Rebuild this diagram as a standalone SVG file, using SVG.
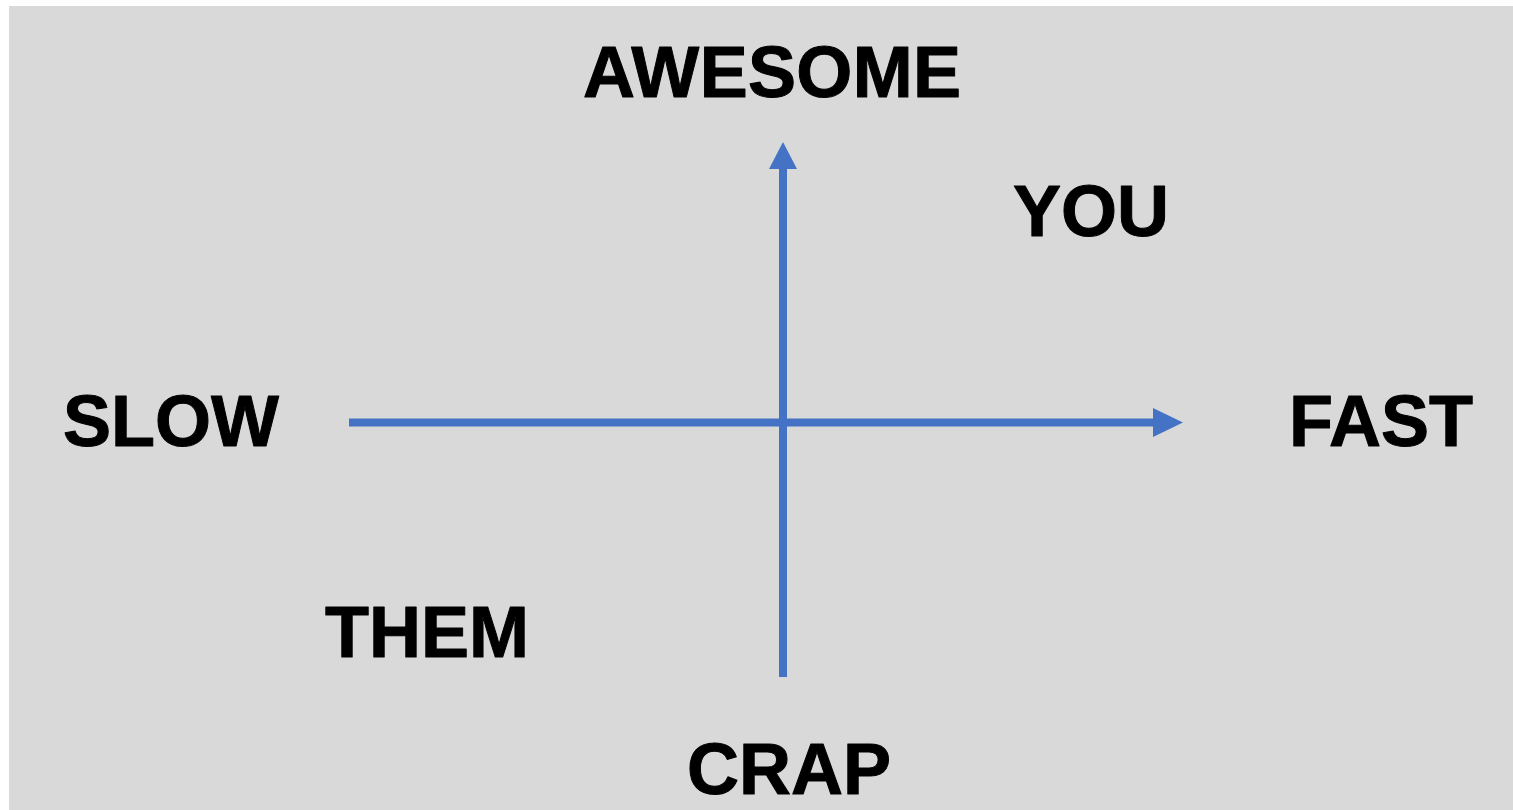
<svg xmlns="http://www.w3.org/2000/svg" width="1513" height="810" viewBox="0 0 1513 810">
  <style>
    .lbl { font-family: "Liberation Sans", Arial, sans-serif; font-weight: bold; font-size: 72px; fill: #000; stroke: #000; stroke-width: 1; stroke-linejoin: round; }
    .axis { stroke: #4472C4; stroke-width: 8; fill: none; }
    .head { fill: #4472C4; }
  </style>
  <rect x="9" y="6" width="1504" height="804" fill="#d9d9d9"/>
  <g id="connectors">
    <line class="axis" x1="349" y1="422.5" x2="1156" y2="422.5"/>
    <polygon class="head" points="1153,408 1183,422.5 1153,437"/>
    <line class="axis" x1="783" y1="677" x2="783" y2="167"/>
    <polygon class="head" points="769,169 783,142 797,169"/>
  </g>
  <g id="awesome"><text class="lbl" x="772" y="97" text-anchor="middle" textLength="378">AWESOME</text></g>
  <g id="you"><text class="lbl" x="1013" y="236">YOU</text></g>
  <g id="slow"><text class="lbl" x="63" y="446">SLOW</text></g>
  <g id="fast"><text class="lbl" x="1289" y="446">FAST</text></g>
  <g id="them"><text class="lbl" x="325" y="657">THEM</text></g>
  <g id="crap"><text class="lbl" x="687" y="794">CRAP</text></g>
</svg>
